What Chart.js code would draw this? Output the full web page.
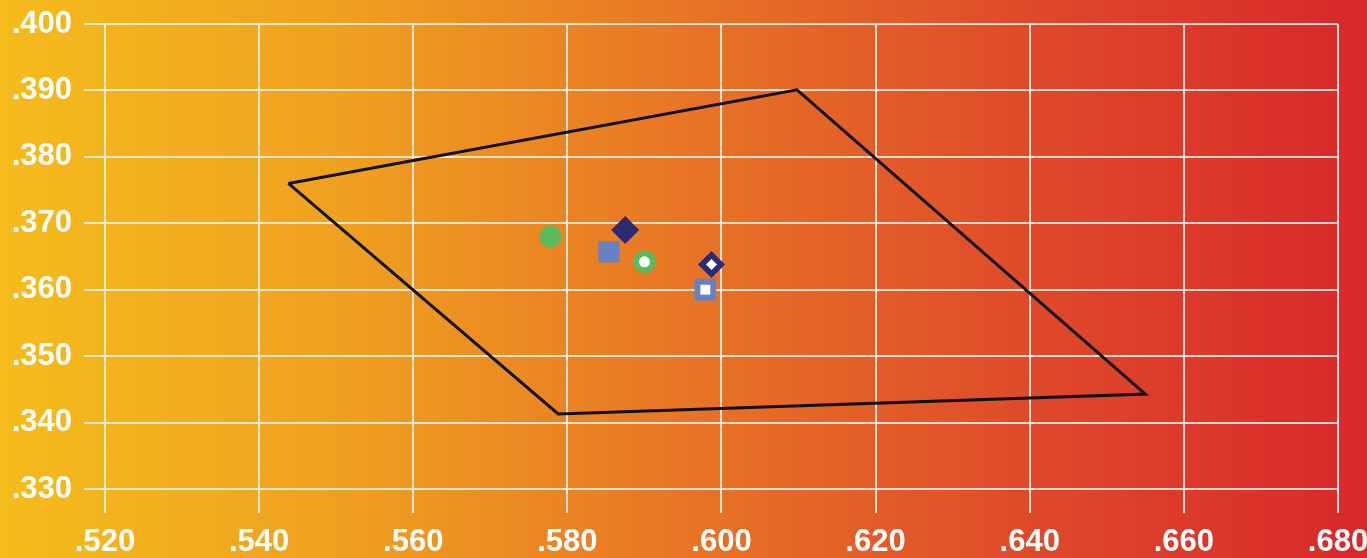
<!DOCTYPE html>
<html>
<head>
<meta charset="utf-8">
<script src="https://cdn.jsdelivr.net/npm/chart.js@4.4.0/dist/chart.umd.min.js"></script>
<style>
html,body{margin:0;padding:0;background:#e87626;overflow:hidden;}
canvas{display:block;}
</style>
</head>
<body>
<canvas id="c" width="1367" height="558"></canvas>
<script>
// Axis ticks
const xTicks = [0.52, 0.54, 0.56, 0.58, 0.60, 0.62, 0.64, 0.66, 0.68];
const yTicks = [0.33, 0.34, 0.35, 0.36, 0.37, 0.38, 0.39, 0.40];

// Boundary polygon (closed)
const polygonX = [0.5438, 0.6098, 0.6550, 0.5788, 0.5438];
const polygonY = [0.3760, 0.3901, 0.3443, 0.3413, 0.3760];

// Markers
const greenDot      = {x: 0.5778, y: 0.3680};
const blueSquare    = {x: 0.5854, y: 0.3657};
const navyDiamond   = {x: 0.5875, y: 0.3690};
const greenRing     = {x: 0.5900, y: 0.3642};
const navyDiamondOpen = {x: 0.5987, y: 0.3638};
const blueSquareOpen  = {x: 0.5979, y: 0.3600};

const GREEN = '#5cba5c';
const BLUE = '#6881c2';
const NAVY = '#2b2a72';

const fmt = v => '.' + Number(v).toFixed(3).split('.')[1];

const bgPlugin = {
  id: 'bg',
  beforeDraw(chart) {
    const ctx = chart.ctx;
    const w = chart.width, h = chart.height;
    const g = ctx.createLinearGradient(0, 0, w, 0);
    g.addColorStop(0, '#f5bc1c');
    g.addColorStop(0.25, '#f0a020');
    g.addColorStop(0.5, '#e87526');
    g.addColorStop(0.75, '#df4a2a');
    g.addColorStop(1, '#d8282a');
    ctx.save();
    ctx.fillStyle = g;
    ctx.fillRect(0, 0, w, h);
    ctx.restore();
  }
};

const pt = (p, style, r, color, order) => ({
  type: 'scatter',
  data: [p],
  order: order,
  pointStyle: style,
  pointRadius: r,
  pointBackgroundColor: color,
  backgroundColor: color,
  pointBorderWidth: 0,
  borderWidth: 0,
  pointBorderColor: color,
  showLine: false
});

new Chart(document.getElementById('c'), {
  type: 'scatter',
  data: {
    datasets: [
      {
        type: 'scatter',
        data: polygonX.map((x, i) => ({x, y: polygonY[i]})),
        order: 10,
        showLine: true,
        borderColor: '#111',
        borderWidth: 3,
        pointRadius: 0,
        fill: false,
        tension: 0
      },
      pt(greenDot, 'circle', 11, GREEN, 5),
      pt(blueSquare, 'rect', 15, BLUE, 5),
      pt(navyDiamond, 'rectRot', 14, NAVY, 5),
      pt(greenRing, 'circle', 11.3, GREEN, 5),
      pt(greenRing, 'circle', 5.5, '#ffffff', 1),
      pt(navyDiamondOpen, 'rectRot', 13.5, NAVY, 5),
      pt(navyDiamondOpen, 'rectRot', 5.5, '#ffffff', 1),
      pt(blueSquareOpen, 'rect', 15.5, BLUE, 5),
      pt(blueSquareOpen, 'rect', 7, '#ffffff', 1)
    ]
  },
  options: {
    responsive: false,
    animation: false,
    events: [],
    layout: {padding: {top: 24, right: 29, left: 0, bottom: 0}},
    plugins: {legend: {display: false}, tooltip: {enabled: false}},
    scales: {
      x: {
        type: 'linear',
        min: xTicks[0],
        max: xTicks[xTicks.length - 1],
        afterBuildTicks: s => { s.ticks = xTicks.map(v => ({value: v})); },
        afterFit: s => { s.height = 69; s.paddingLeft = 0; s.paddingRight = 0; },
        ticks: {
          callback: v => fmt(v),
          color: '#ffffff',
          font: {family: 'Liberation Sans', size: 31, weight: 'bold'},
          padding: 11,
          maxRotation: 0,
          autoSkip: false
        },
        grid: {color: 'rgba(255,244,236,0.85)', lineWidth: 2, tickLength: 24},
        border: {display: false}
      },
      y: {
        type: 'linear',
        min: yTicks[0],
        max: yTicks[yTicks.length - 1],
        afterBuildTicks: s => { s.ticks = yTicks.map(v => ({value: v})); },
        afterFit: s => { s.width = 105; s.paddingTop = 0; s.paddingBottom = 0; },
        ticks: {
          callback: v => fmt(v),
          color: '#ffffff',
          font: {family: 'Liberation Sans', size: 31, weight: 'bold'},
          padding: 12,
          autoSkip: false
        },
        grid: {color: 'rgba(255,244,236,0.85)', lineWidth: 2, tickLength: 21},
        border: {display: false}
      }
    }
  },
  plugins: [bgPlugin]
});
</script>
</body>
</html>
